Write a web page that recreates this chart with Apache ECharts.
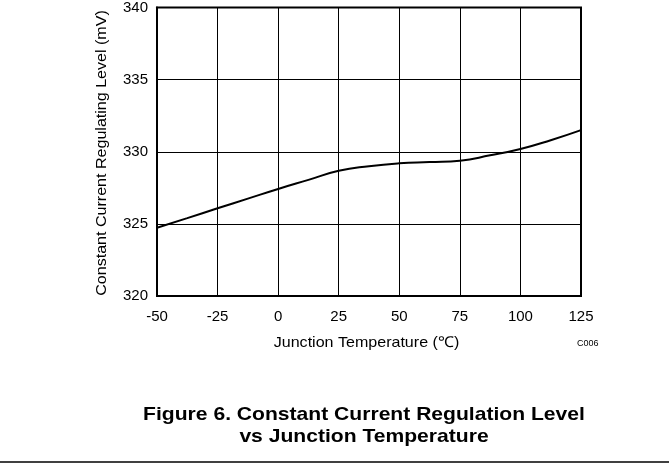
<!DOCTYPE html>
<html><head><meta charset="utf-8">
<script src="https://cdn.jsdelivr.net/npm/echarts@6/dist/echarts.min.js"></script>
<style>html,body{margin:0;padding:0;background:#fff}#c{width:669px;height:466px}</style>
</head><body><div id="c"></div>
<script>
const temps = [-50, -37.5, -25, -12.5, 0, 12.5, 25, 37.5, 50, 62.5, 75, 87.5, 100, 112.5, 125];
const levels = [324.73, 325.4, 326.08, 326.75, 327.42, 328.05, 328.68, 329.0, 329.2, 329.29, 329.38, 329.75, 330.19, 330.8, 331.5];
const xTicks = [-50, -25, 0, 25, 50, 75, 100, 125];
const yTicks = [320, 325, 330, 335, 340];
const xName = 'Junction Temperature (℃)';
const yName = 'Constant Current Regulating Level (mV)';
const titleLines = ['Figure 6. Constant Current Regulation Level', 'vs Junction Temperature'];
const F = 'Liberation Sans, Arial, sans-serif';
const chart = echarts.init(document.getElementById('c'), null, {renderer: 'canvas'});
chart.setOption({
  animation: false,
  backgroundColor: '#fff',
  grid: {left: 157, top: 7, width: 424, height: 289, show: true, borderColor: '#000', borderWidth: 2, backgroundColor: 'transparent'},
  xAxis: {
    type: 'value', min: xTicks[0], max: xTicks[xTicks.length-1], interval: 25,
    axisLine: {show: true, onZero: false, lineStyle: {color: '#000', width: 2}},
    axisTick: {show: false},
    axisLabel: {fontFamily: F, fontSize: 15, color: '#000', margin: 13},
    splitLine: {show: true, lineStyle: {color: '#000', width: 1}}
  },
  yAxis: {
    type: 'value', min: yTicks[0], max: yTicks[yTicks.length-1], interval: 5,
    axisLine: {show: true, onZero: false, lineStyle: {color: '#000', width: 2}},
    axisTick: {show: false},
    axisLabel: {fontFamily: F, fontSize: 15, color: '#000', margin: 9},
    splitLine: {show: true, lineStyle: {color: '#000', width: 1}}
  },
  series: [{
    type: 'line', smooth: 0.5, showSymbol: false,
    data: temps.map((t, i) => [t, levels[i]]),
    lineStyle: {color: '#000', width: 2}
  }],
  graphic: [
    {type: 'text', x: 366.5, y: 343, scaleX: 1.07, style: {text: xName, font: '15px ' + F, fill: '#000', align: 'center', verticalAlign: 'middle'}},
    {type: 'text', x: 102, y: 153, rotation: Math.PI / 2, scaleX: 1.07, style: {text: yName, font: '15px ' + F, fill: '#000', align: 'center', verticalAlign: 'middle'}},
    {type: 'text', x: 577, y: 344, style: {text: 'C006', font: '9px ' + F, fill: '#000', verticalAlign: 'middle'}},
    {type: 'text', x: 364, y: 415, scaleX: 1.14, style: {text: titleLines[0], font: 'bold 18.5px ' + F, fill: '#000', align: 'center', verticalAlign: 'middle'}},
    {type: 'text', x: 364, y: 437, scaleX: 1.14, style: {text: titleLines[1], font: 'bold 18.5px ' + F, fill: '#000', align: 'center', verticalAlign: 'middle'}},
    {type: 'line', shape: {x1: 0, y1: 462, x2: 669, y2: 462}, style: {stroke: '#000', lineWidth: 1.5}}
  ]
});
</script></body></html>
